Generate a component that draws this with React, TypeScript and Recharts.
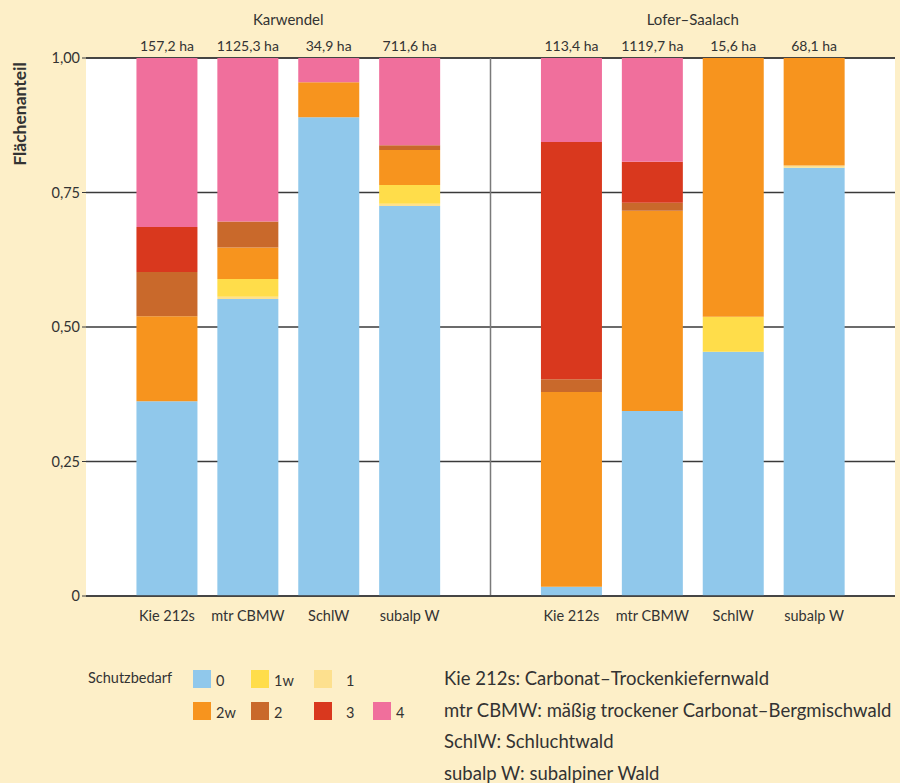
import { BarChart, Bar, XAxis, YAxis, CartesianGrid, ReferenceLine } from 'recharts'

const categories = ['Kie 212s', 'mtr CBMW', 'SchlW', 'subalp W', 'Kie 212s', 'mtr CBMW', 'SchlW', 'subalp W']
const areas = ['157,2 ha', '1125,3 ha', '34,9 ha', '711,6 ha', '113,4 ha', '1119,7 ha', '15,6 ha', '68,1 ha']
const groups = ['Karwendel', 'Lofer–Saalach']

// Flächenanteile je Schutzbedarf (von unten nach oben gestapelt)
const s0 = [0.362, 0.552, 0.89, 0.725, 0.017, 0.344, 0.454, 0.796]
const s1 = [0, 0.004, 0, 0.004, 0, 0, 0, 0.004]
const s1w = [0, 0.033, 0, 0.035, 0, 0, 0.065, 0]
const s2w = [0.158, 0.059, 0.065, 0.065, 0.362, 0.372, 0.481, 0.2]
const s2 = [0.082, 0.048, 0, 0.009, 0.024, 0.015, 0, 0]
const s3 = [0.084, 0, 0, 0, 0.441, 0.076, 0, 0]
const s4 = [0.314, 0.304, 0.045, 0.162, 0.156, 0.193, 0, 0]

const yTicks = [0, 0.25, 0.5, 0.75, 1]

const series = [
  { key: 's0', label: '0', color: '#90c8eb', values: s0 },
  { key: 's1', label: '1', color: '#fde08e', values: s1 },
  { key: 's1w', label: '1w', color: '#ffdd4a', values: s1w },
  { key: 's2w', label: '2w', color: '#f7941e', values: s2w },
  { key: 's2', label: '2', color: '#c9692b', values: s2 },
  { key: 's3', label: '3', color: '#d9381e', values: s3 },
  { key: 's4', label: '4', color: '#f06f9c', values: s4 },
]

const notes = [
  'Kie 212s: Carbonat–Trockenkiefernwald',
  'mtr CBMW: mäßig trockener Carbonat–Bergmischwald',
  'SchlW: Schluchtwald',
  'subalp W: subalpiner Wald',
]

// slot 5 bleibt frei als Trenner zwischen den Gebieten
const slot = (i: number) => (i < 4 ? i + 1 : i + 2)

const data = categories.map((c, i) => {
  const row: Record<string, number | string> = { x: slot(i), name: c }
  series.forEach((s) => {
    row[s.key] = s.values[i]
  })
  return row
})

const tickFor = (labels: string[]) => (v: number) => {
  const i = labels === groups ? (v < 5 ? 0 : 1) : v < 5 ? v - 1 : v - 2
  return labels[i] ?? ''
}

const font = 'Lato, "Open Sans", sans-serif'
const textColor = '#333'

const legendRows = [
  ['s0', 's1w', 's1'],
  ['s2w', 's2', 's3', 's4'],
]

export default function App() {
  return (
    <div
      style={{
        position: 'absolute',
        left: 0,
        top: 0,
        width: 900,
        height: 783,
        background: '#fdefc8',
        fontFamily: font,
        color: textColor,
        overflow: 'hidden',
      }}
    >
      <div
        style={{
          position: 'absolute',
          left: 19,
          top: 114,
          transform: 'translate(-50%, -50%) rotate(-90deg)',
          fontSize: 17.5,
          fontWeight: 700,
          whiteSpace: 'nowrap',
        }}
      >
        Flächenanteil
      </div>
      <BarChart
        width={900}
        height={783}
        data={data}
        margin={{ top: 0, right: 5, bottom: 157, left: 0 }}
        barSize={61}
      >
        <CartesianGrid
          xAxisId="main"
          yAxisId="y"
          vertical={false}
          stroke="#3a3a3a"
          strokeWidth={1.5}
          fill="#ffffff"
          fillOpacity={1}
        />
        <XAxis
          xAxisId="main"
          dataKey="x"
          type="number"
          domain={[0, 10]}
          ticks={[1, 2, 3, 4, 6, 7, 8, 9]}
          tickFormatter={tickFor(categories)}
          tick={{ fontSize: 14.5, fill: textColor, fontFamily: font }}
          tickLine={false}
          tickSize={0}
          tickMargin={15}
          axisLine={{ stroke: '#3a3a3a', strokeWidth: 1.5 }}
          height={30}
          interval={0}
        />
        <XAxis
          xAxisId="a_ha"
          dataKey="x"
          type="number"
          orientation="top"
          domain={[0, 10]}
          ticks={[1, 2, 3, 4, 6, 7, 8, 9]}
          tickFormatter={tickFor(areas)}
          tick={{ fontSize: 14, fill: textColor, fontFamily: font }}
          tickLine={false}
          tickSize={0}
          tickMargin={7}
          axisLine={false}
          height={28}
          interval={0}
        />
        <XAxis
          xAxisId="b_groups"
          dataKey="x"
          type="number"
          orientation="top"
          domain={[0, 10]}
          ticks={[2.5, 7.5]}
          tickFormatter={tickFor(groups)}
          tick={{ fontSize: 15, fill: textColor, fontFamily: font }}
          tickLine={false}
          tickSize={0}
          tickMargin={5}
          axisLine={false}
          height={30}
          interval={0}
        />
        <YAxis
          yAxisId="y"
          domain={[0, 1]}
          ticks={yTicks}
          tickFormatter={(v: number) => (v === 0 ? '0' : v.toFixed(2).replace('.', ','))}
          tick={{ fontSize: 14.5, fill: textColor, fontFamily: font }}
          tickSize={4}
          tickMargin={2}
          tickLine={{ stroke: '#3a3a3a' }}
          axisLine={false}
          width={86}
        />
        <ReferenceLine xAxisId="main" yAxisId="y" x={5} stroke="#7a7a7a" strokeWidth={1.5} />
        {series.map((s) => (
          <Bar
            key={s.key}
            xAxisId="main"
            yAxisId="y"
            dataKey={s.key}
            stackId="a"
            fill={s.color}
            isAnimationActive={false}
          />
        ))}
      </BarChart>

      <div style={{ position: 'absolute', left: 88, top: 669, fontSize: 14.5 }}>Schutzbedarf</div>
      {legendRows.map((row, r) =>
        row.map((key, c) => {
          const s = series.find((d) => d.key === key)!
          const lefts = [193, 251, 314, 373]
          return (
            <div
              key={key}
              style={{
                position: 'absolute',
                left: lefts[c],
                top: 668 + r * 32,
                display: 'flex',
                alignItems: 'center',
                fontSize: 14.5,
              }}
            >
              <span style={{ width: 18, height: 18, background: s.color, display: 'inline-block' }} />
              <span style={{ marginLeft: key === 's1' || key === 's3' ? 14 : 5, marginTop: 4 }}>{s.label}</span>
            </div>
          )
        })
      )}
      {notes.map((n, i) => (
        <div
          key={n}
          style={{
            position: 'absolute',
            left: 444,
            top: 670 + i * 31.5,
            fontSize: 18.5,
            lineHeight: '16px',
            whiteSpace: 'nowrap',
          }}
        >
          {n}
        </div>
      ))}
    </div>
  )
}
